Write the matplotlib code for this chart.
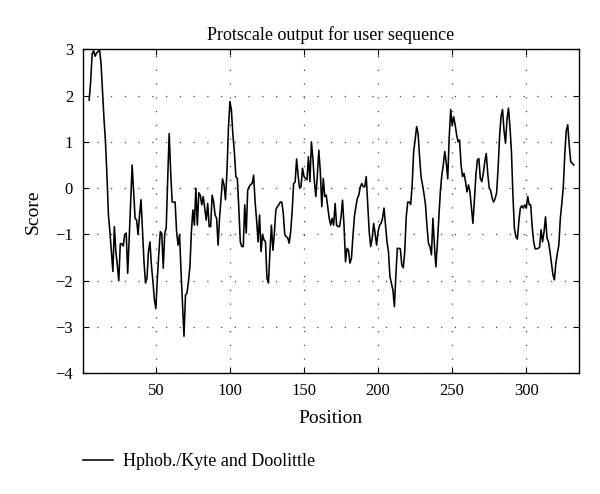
import matplotlib
matplotlib.use("Agg")
import matplotlib.pyplot as plt
import numpy as np

plt.rcParams['font.family'] = ['Liberation Serif', 'DejaVu Serif']
plt.rcParams['mathtext.fontset'] = 'stix'

start_pos = 5
scores = [
    1.9, 2.3, 2.9, 2.97, 2.85, 2.92, 2.95, 3.0, 2.7, 2.08,          # 5-14
    1.5, 1.0, 0.28, -0.58, -0.94, -1.37, -1.8, -0.83, -1.37, -1.66,  # 15-24
    -2.0, -1.2, -1.2, -1.25, -1.0, -0.97, -1.84, -1.1, -0.3, 0.5,    # 25-34
    -0.07, -0.65, -0.69, -1.0, -0.58, -0.25, -0.94, -1.59, -2.05, -1.95,  # 35-44
    -1.37, -1.16, -1.66, -2.0, -2.4, -2.6, -1.95, -1.41, -0.94, -0.98,   # 45-54
    -1.73, -0.98, -0.86, 0.2, 1.18, 0.36, -0.3, -0.3, -0.3, -0.94,    # 55-64
    -1.23, -1.0, -1.8, -2.52, -3.2, -2.31, -2.27, -2.02, -1.69, -0.94,  # 65-74
    -0.47, -0.8, 0.0, -0.8, -0.1, -0.15, -0.36, -0.18, -0.43, -0.69,  # 75-84
    -0.33, -0.83, -0.83, -0.15, -0.3, -0.58, -0.65, -1.23, -0.65, -0.22,  # 85-94
    0.2, 0.07, -0.25, 0.36, 1.3, 1.87, 1.69, 1.15, 0.79, 0.25,       # 95-104
    0.21, -0.43, -1.16, -1.26, -1.26, -0.36, -0.97, -0.04, 0.03, 0.08,  # 105-114
    0.1, 0.28, -0.3, -0.69, -1.16, -0.58, -1.37, -1.0, -1.12, -1.16,  # 115-124
    -1.95, -2.05, -1.37, -0.8, -1.34, -0.97, -0.47, -0.4, -0.36, -0.3,  # 125-134
    -0.3, -0.54, -1.0, -1.05, -1.07, -1.19, -0.94, -0.5, 0.1, 0.13,   # 135-144
    0.63, 0.28, 0.0, 0.03, 0.43, 0.25, 0.21, 0.18, 0.68, 0.14,        # 145-154
    1.0, 0.64, 0.14, -0.18, 0.28, 0.82, 0.36, -0.4, 0.21, -0.18,      # 155-164
    -0.15, -0.4, -0.65, -0.8, -0.65, -0.8, -0.33, -0.8, -0.83, -0.83,  # 165-174
    -0.62, -0.26, -0.8, -1.59, -1.3, -1.34, -1.62, -1.52, -1.05, -0.62,  # 175-184
    -0.4, -0.22, -0.15, 0.03, 0.1, 0.03, 0.03, 0.25, -0.36, -0.94,    # 185-194
    -1.26, -1.09, -0.76, -0.98, -1.23, -0.94, -0.8, -0.76, -0.65, -0.43,  # 195-204
    -0.8, -1.16, -1.37, -1.91, -2.06, -2.2, -2.56, -1.88, -1.3, -1.3,  # 205-214
    -1.31, -1.66, -1.72, -1.37, -0.62, -0.3, -0.3, -0.35, 0.07, 0.79,  # 215-224
    1.04, 1.33, 1.18, 0.68, 0.25, 0.07, -0.13, -0.36, -0.83, -1.19,   # 225-234
    -1.26, -1.44, -0.65, -1.23, -1.7, -1.2, -0.65, -0.08, 0.28, 0.5,  # 235-244
    0.79, 0.55, 0.2, 1.1, 1.7, 1.35, 1.54, 1.37, 1.15, 1.0,           # 245-254
    1.04, 0.5, 0.25, 0.32, 0.14, -0.08, 0.07, -0.08, -0.43, -0.76,    # 255-264
    -0.26, 0.28, 0.61, 0.64, 0.21, 0.14, 0.32, 0.57, 0.75, 0.32,      # 265-274
    0.0, -0.05, -0.22, -0.3, -0.22, -0.1, 0.43, 1.12, 1.55, 1.7,      # 275-284
    1.24, 0.97, 1.48, 1.73, 1.33, 0.79, -0.15, -0.87, -1.05, -1.1,    # 285-294
    -0.72, -0.43, -0.38, -0.43, -0.36, -0.43, -0.18, -0.36, -0.36, -0.83,  # 295-304
    -1.16, -1.31, -1.31, -1.3, -1.28, -0.9, -1.16, -0.94, -0.62, -1.08,  # 305-314
    -1.16, -1.37, -1.62, -1.87, -1.98, -1.62, -1.4, -1.23, -0.65, -0.33,  # 315-324
    0.03, 0.72, 1.24, 1.37, 0.93, 0.57, 0.54, 0.5,                    # 325-332
]
positions = np.arange(start_pos, start_pos + len(scores))

x_ticks = [50, 100, 150, 200, 250, 300]
y_ticks = [-4, -3, -2, -1, 0, 1, 2, 3]
series_label = "Hphob./Kyte and Doolittle"

fig = plt.figure(figsize=(6.0, 4.94), dpi=100)
ax = fig.add_axes([0.138, 0.2443, 0.827, 0.6559])

ax.plot(positions, scores, color='black', linewidth=1.15, label=series_label)

ax.set_xlim(0.7, 335.6)
ax.set_ylim(-4, 3)
ax.set_xticks(x_ticks)
ax.set_yticks(y_ticks)
ax.set_yticklabels([f"{t}".replace('-', '\u2212') for t in y_ticks])

ax.grid(True, color='#444444', linestyle=(0, (1, 10)), linewidth=0.9)
ax.tick_params(direction='in', top=True, right=True, length=4, width=0.8,
               labelsize=12, pad=7)
for s in ax.spines.values():
    s.set_linewidth(1.0)

ax.set_title("Protscale output for user sequence", fontsize=13, pad=7)
ax.set_xlabel("Position", fontsize=14, labelpad=8)
ax.set_ylabel("Score", fontsize=14, labelpad=10)

fig.legend(loc='upper left', bbox_to_anchor=(0.127, 0.097), frameon=False,
           fontsize=13, handlelength=1.65, handletextpad=0.55, borderaxespad=0)

fig.savefig("out.png", dpi=100)
